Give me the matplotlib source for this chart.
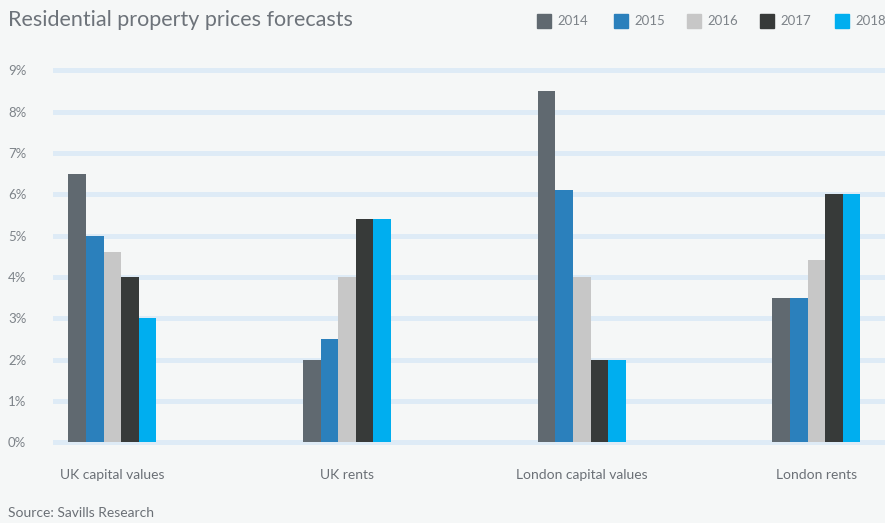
import numpy as np
import matplotlib.pyplot as plt

# Forecast growth (%) per market, one list per year
categories = ['UK capital values', 'UK rents', 'London capital values', 'London rents']
years = ['2014', '2015', '2016', '2017', '2018']
values_2014 = [6.5, 2.0, 8.5, 3.5]
values_2015 = [5.0, 2.5, 6.1, 3.5]
values_2016 = [4.6, 4.0, 4.0, 4.4]
values_2017 = [4.0, 5.4, 2.0, 6.0]
values_2018 = [3.0, 5.4, 2.0, 6.0]
yticks = [0, 1, 2, 3, 4, 5, 6, 7, 8, 9]

series = [values_2014, values_2015, values_2016, values_2017, values_2018]
colors = ['#606970', '#2b80bc', '#c7c7c7', '#373a39', '#00aeef']

bg = '#f5f7f7'
text_grey = '#7d8389'

plt.rcParams['font.family'] = ['Lato', 'DejaVu Sans']

fig = plt.figure(figsize=(8.85, 5.23), dpi=100, facecolor=bg)
ax = fig.add_axes([0.0599, 0.1465, 0.940, 0.7269], facecolor=bg)

x = np.arange(len(categories))
barWidth = 0.075
for i, (vals, col) in enumerate(zip(series, colors)):
    offset = (i - 2) * barWidth
    ax.bar(x + offset, vals, width=barWidth, color=col, zorder=3, linewidth=0)

# thick pale gridlines behind the bars
for t in yticks:
    ax.axhline(t, color='#deebf6', linewidth=3.6, zorder=1)

ax.set_xlim(-0.2526, 3.2916)
ax.set_ylim(-0.1, 9.1)
ax.set_yticks(yticks)
ax.set_yticklabels([f'{t}%' for t in yticks])
ax.set_xticks(x)
ax.set_xticklabels(categories)
ax.tick_params(axis='y', length=0, pad=32.4, labelsize=9.5, labelcolor=text_grey)
ax.tick_params(axis='x', length=0, pad=16, labelsize=10, labelcolor='#6b7076')
for lbl in ax.get_yticklabels():
    lbl.set_horizontalalignment('left')
for s in ax.spines.values():
    s.set_visible(False)

fig.text(8 / 885, 1 - 20 / 523, 'Residential property prices forecasts',
         fontsize=15.5, color='#6d737a', va='center', ha='left')
fig.text(8 / 885, 1 - 513 / 523, 'Source: Savills Research',
         fontsize=10, color='#6b7076', va='center', ha='left')

# legend drawn as squares + labels along the top right
legend_x = [537, 614, 687, 760, 835]
for lx, yr, col in zip(legend_x, years, colors):
    fig.patches.append(plt.Rectangle((lx / 885, 1 - 28 / 523), 14 / 885, 14 / 523,
                                     transform=fig.transFigure, color=col, figure=fig))
    fig.text((lx + 20) / 885, 1 - 21 / 523, yr, fontsize=9.5, color=text_grey,
             va='center', ha='left')

fig.savefig('out.png', dpi=100, facecolor=bg)
